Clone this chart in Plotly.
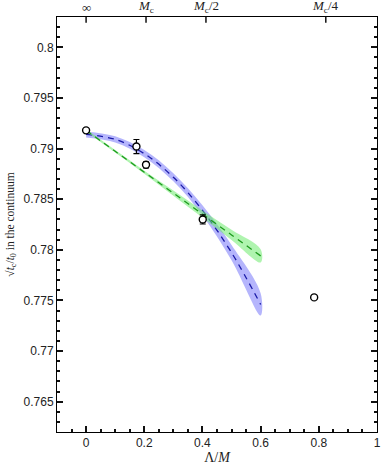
import plotly.graph_objects as go

# data points
lam = [0.0, 0.173, 0.206, 0.401, 0.784]
val = [0.7918, 0.7902, 0.7884, 0.7830, 0.7753]
err = [0.0002, 0.0007, 0.0003, 0.00045, 0.0002]

# fit curves, sampled at x_fit
x_fit = [0.0, 0.1, 0.2, 0.3, 0.4, 0.5, 0.6]
quad_c = [0.79140, 0.79091, 0.78950, 0.78717, 0.78390, 0.77972, 0.77460]
quad_e = [0.00030, 0.00030, 0.00035, 0.00040, 0.00050, 0.00075, 0.00110]
lin_c = [0.79180, 0.78973, 0.78767, 0.78560, 0.78353, 0.78147, 0.77940]
lin_e = [0.00010, 0.00012, 0.00015, 0.00025, 0.00035, 0.00050, 0.00065]

# top axis: cutoff scale
top_pos = [0.0, 0.206, 0.412, 0.824]
top_lab = ["∞", "<i>M</i><sub>c</sub>", "<i>M</i><sub>c</sub>/2", "<i>M</i><sub>c</sub>/4"]

fig = go.Figure()


def band(xs, c, e, fill, line):
    up = [a + b for a, b in zip(c, e)]
    lo = [a - b for a, b in zip(c, e)]
    fig.add_trace(go.Scatter(x=xs + xs[::-1], y=up + lo[::-1], fill="toself",
                             fillcolor=fill, line=dict(width=0), mode="lines",
                             line_shape="spline", hoverinfo="skip", showlegend=False))
    fig.add_trace(go.Scatter(x=xs, y=c, mode="lines", line_shape="spline",
                             line=dict(color=line, width=1.3, dash="6px,5px"),
                             showlegend=False))


band(x_fit, quad_c, quad_e, "rgba(120,120,250,0.55)", "#1a1aa8")
band(x_fit, lin_c, lin_e, "rgba(110,235,110,0.55)", "#1c9a1c")

fig.add_trace(go.Scatter(x=lam, y=val, mode="markers",
                         marker=dict(symbol="circle", size=7, color="white",
                                     line=dict(color="black", width=1.4)),
                         error_y=dict(type="data", array=err, color="black",
                                      thickness=1.2, width=3),
                         showlegend=False))

serif = "Liberation Serif, serif"
tk = "#111111"
# top tick marks and labels
for p, t in zip(top_pos, top_lab):
    fig.add_shape(type="line", xref="x", yref="paper", x0=p, x1=p, y0=1, y1=0.986,
                  line=dict(color=tk, width=1.5))
    fig.add_annotation(x=p, y=1, xref="x", yref="paper", text=t, showarrow=False,
                       yanchor="bottom", yshift=0,
                       font=dict(family=serif, size=13, color="#222"))

axis_font = dict(family="Liberation Sans, Arial", size=12, color="#222")
fig.update_layout(
    template="none",
    width=382, height=465,
    margin=dict(l=57, r=5, t=17, b=33),
    paper_bgcolor="white", plot_bgcolor="white",
    xaxis=dict(range=[-0.1, 1.0], tick0=0, dtick=0.2, automargin=False,
               ticks="inside", ticklen=6, tickcolor=tk, tickwidth=1.5,
               minor=dict(dtick=0.05, tick0=0, ticks="inside", ticklen=3,
                          tickcolor=tk, tickwidth=1.5),
               showline=True, linecolor="black", linewidth=1, mirror=True,
               showgrid=False, zeroline=False, tickfont=axis_font,
               title=dict(text="Λ/<i>M</i>", standoff=0,
                          font=dict(family=serif, size=14, color="#222"))),
    yaxis=dict(range=[0.762, 0.803], tick0=0.765, dtick=0.005, automargin=False,
               ticks="inside", ticklen=6, tickcolor=tk, tickwidth=1.5,
               minor=dict(dtick=0.001, tick0=0.765, ticks="inside", ticklen=3,
                          tickcolor=tk, tickwidth=1.5),
               showline=True, linecolor="black", linewidth=1, mirror="allticks",
               showgrid=False, zeroline=False, tickfont=axis_font,
               title=dict(text="√<i>t</i><sub>c</sub>/<i>t</i><sub>0</sub> in the continuum",
                          standoff=6,
                          font=dict(family=serif, size=11.5, color="#222"))),
)

fig.write_html("out.html", config={"displayModeBar": False},
               post_script="document.body.style.margin='0';")
